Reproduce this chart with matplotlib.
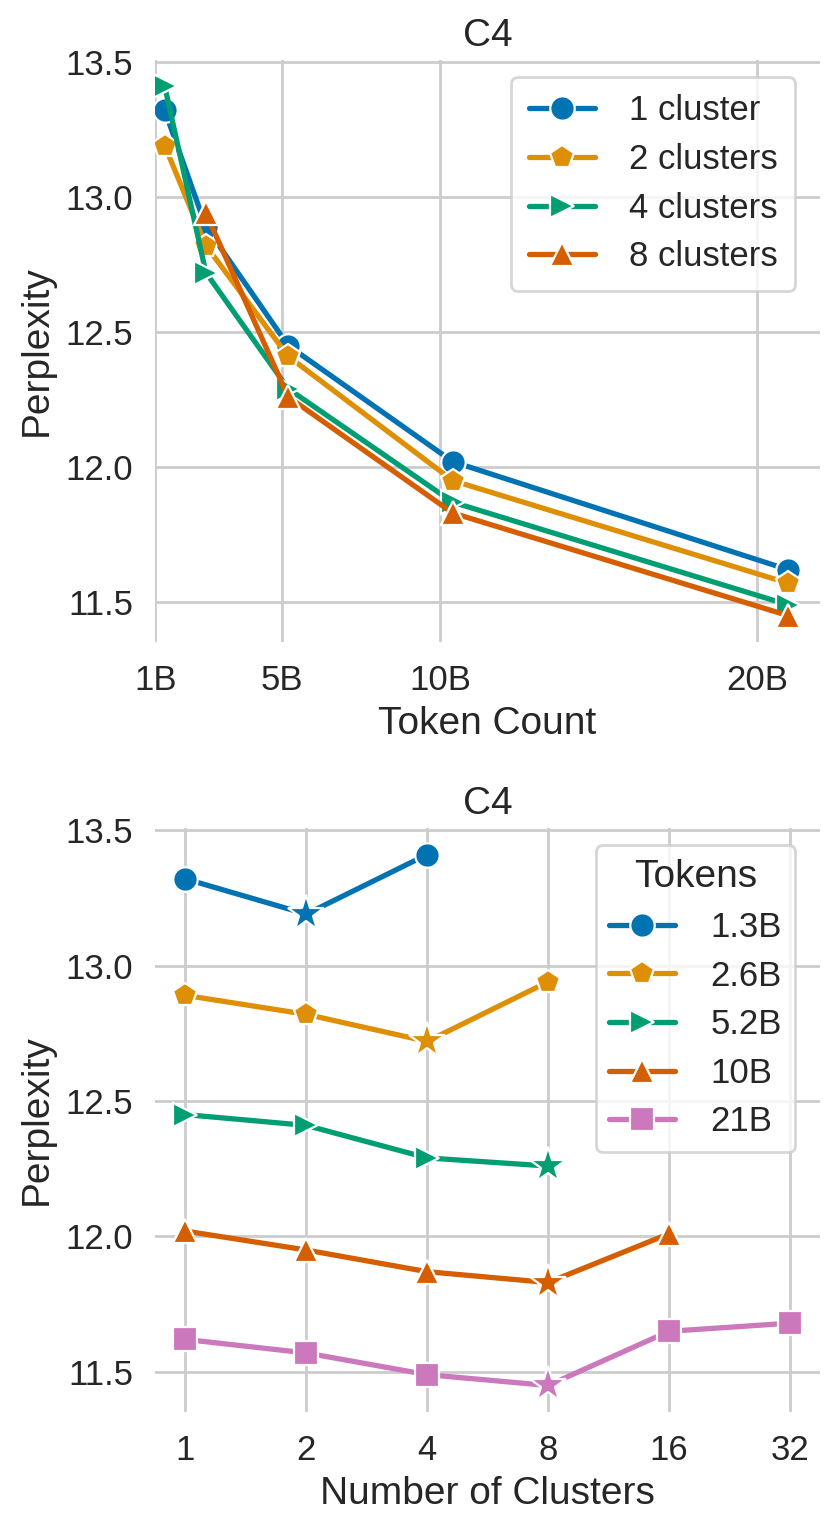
import numpy as np
import matplotlib
matplotlib.use("Agg")
import matplotlib.pyplot as plt
import seaborn as sns

# perplexity per token budget, indexed by number of clusters (1, 2, 4, 8, 16, 32)
clusters = [1, 2, 4, 8, 16, 32]
tokens_b = [1.3, 2.6, 5.2, 10.4, 21]
token_labels = ["1.3B", "2.6B", "5.2B", "10B", "21B"]
ppl_1_3b = [13.32, 13.19, 13.41]
ppl_2_6b = [12.89, 12.82, 12.72, 12.94]
ppl_5_2b = [12.45, 12.41, 12.29, 12.26]
ppl_10b = [12.02, 11.95, 11.87, 11.83, 12.01]
ppl_21b = [11.62, 11.57, 11.49, 11.45, 11.65, 11.68]
top_clusters = [1, 2, 4, 8]
top_labels = ["1 cluster", "2 clusters", "4 clusters", "8 clusters"]
x_ticks_top = [1, 5, 10, 20]
x_ticklabels_top = ["1B", "5B", "10B", "20B"]

rows = [ppl_1_3b, ppl_2_6b, ppl_5_2b, ppl_10b, ppl_21b]

sns.set_theme(style="whitegrid")
plt.rcParams["font.family"] = ["Liberation Sans", "DejaVu Sans"]
FS = 12.5
COLORS = sns.color_palette("colorblind")[:5]
MARKERS = ["o", "p", ">", "^", "s"]
LW = 1.9
MS = 8.8
LEG = dict(fontsize=FS, handlelength=1.9, handletextpad=1.0, labelspacing=0.45,
           edgecolor="#cccccc", borderaxespad=0.0, loc="upper right",
           bbox_to_anchor=(0.963, 0.97))

fig = plt.figure(figsize=(4.15, 7.645), dpi=200)
ax1 = fig.add_axes([0.187, 0.580, 0.801, 0.381])
ax2 = fig.add_axes([0.187, 0.0765, 0.801, 0.382])

# --- top: perplexity vs token count, one line per cluster count
for j, (k, lab) in enumerate(zip(top_clusters, top_labels)):
    xs = [t for t, r in zip(tokens_b, rows) if len(r) > j]
    ys = [r[j] for r in rows if len(r) > j]
    ax1.plot(xs, ys, color=COLORS[j], lw=LW, marker=MARKERS[j], ms=MS,
             mec="white", mew=0.8, label=lab)
ax1.set_xlim(1, 22)
ax1.set_xticks(x_ticks_top)
ax1.set_xticklabels(x_ticklabels_top)
ax1.set_yticks([11.5, 12.0, 12.5, 13.0, 13.5])
ax1.set_xlabel("Token Count", fontsize=14, labelpad=3)
ax1.set_ylabel("Perplexity", fontsize=14)
ax1.set_title("C4", fontsize=14, pad=5)
ax1.legend(borderpad=0.5, **LEG)

# --- bottom: perplexity vs number of clusters, one line per token budget, star = best
for i, (lab, r) in enumerate(zip(token_labels, rows)):
    xs = clusters[:len(r)]
    best = int(np.argmin(r))
    others = [m for m in range(len(r)) if m != best]
    ax2.plot(xs, r, color=COLORS[i], lw=LW, marker=MARKERS[i], ms=MS,
             mec="white", mew=0.8, markevery=others, label=lab)
    ax2.plot([xs[best]], [r[best]], ls="none", marker="*", ms=13.5,
             color=COLORS[i], mec="white", mew=0.8)
ax2.set_xscale("log", base=2)
ax2.set_xticks(clusters)
ax2.set_xticklabels([str(c) for c in clusters])
ax2.minorticks_off()
ax2.set_yticks([11.5, 12.0, 12.5, 13.0, 13.5])
ax2.set_xlabel("Number of Clusters", fontsize=14, labelpad=3)
ax2.set_ylabel("Perplexity", fontsize=14)
ax2.set_title("C4", fontsize=14, pad=5)
ax2.legend(title="Tokens", title_fontsize=14, borderpad=0.4, **LEG)

for ax in (ax1, ax2):
    for s in ax.spines.values():
        s.set_visible(False)
    ax.tick_params(labelsize=FS, pad=8, length=0)
    ax.grid(True, color="#cccccc", lw=1.0)

fig.savefig("out.png", dpi=200)
